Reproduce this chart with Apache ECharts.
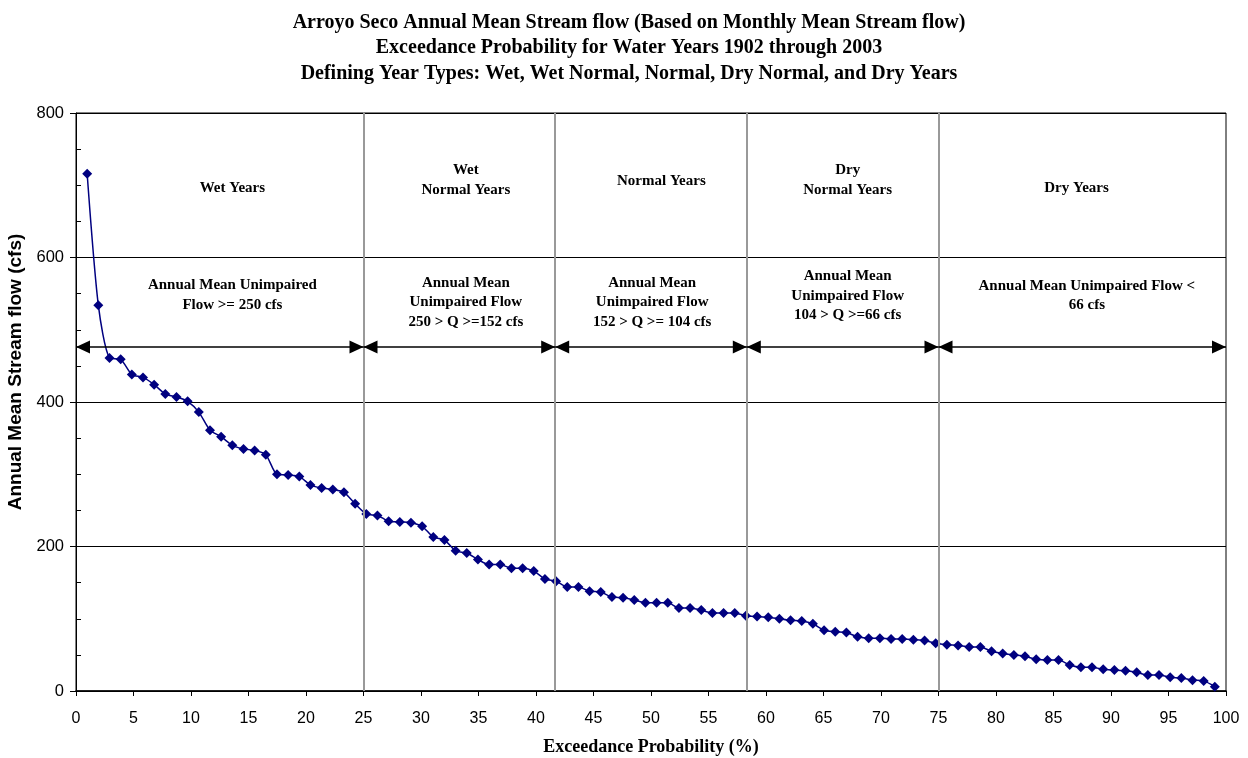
<!DOCTYPE html>
<html>
<head>
<meta charset="utf-8">
<script src="https://cdn.jsdelivr.net/npm/echarts@6/dist/echarts.min.js"></script>
<style>
  html, body { margin: 0; padding: 0; background: #fff; }
  #chart { width: 1248px; height: 758px; }
</style>
</head>
<body>
<div id="chart"></div>
<script>
// annual mean flow, ranked high to low (cfs), water years 1902-2003
var flows = [
  716, 534, 461, 459, 438, 434, 424, 411, 407, 401,
  386, 361, 352, 340, 335, 333, 327, 300, 299, 297,
  285, 281, 279, 275, 259, 245, 243, 235, 234, 233,
  228, 213, 209, 194, 191, 182, 175, 175, 170, 170,
  166, 155, 152, 144, 144, 138, 137, 130, 129, 126,
  122, 122, 122, 115, 115, 112, 108, 108, 108, 104,
  103, 102, 100, 98, 97, 93, 84, 82, 81, 75,
  73, 73, 72, 72, 71, 70, 66, 64, 63, 61,
  61, 55, 52, 50, 48, 44, 43, 43, 36, 33,
  33, 30, 29, 28, 26, 22, 22, 19, 18, 15,
  14, 6
]

// exceedance probability of each ranked year: rank / (n + 1)
var exceed = flows.map(function (v, i) { return (i + 1) / (flows.length + 1) * 100 })

// year type boundaries (% exceedance)
var bounds = [0, 25, 41.67, 58.33, 75, 100]
var arrowLevel = 476

var typeLabels = ['Wet Years', 'Wet\nNormal Years', 'Normal Years', 'Dry\nNormal Years', 'Dry Years']
var flowLabels = [
  'Annual Mean Unimpaired\nFlow >= 250 cfs',
  'Annual Mean\nUnimpaired Flow\n250 > Q >=152 cfs',
  'Annual Mean\nUnimpaired Flow\n152 > Q >= 104 cfs',
  'Annual Mean\nUnimpaired Flow\n104 > Q >=66 cfs',
  'Annual Mean Unimpaired Flow <\n66 cfs'
]
// where the text boxes sit (x %, y cfs)
var typePos = [[13.6, 696], [33.9, 707], [50.9, 706], [67.1, 707], [87, 696]]
var flowPos = [[13.6, 548], [33.9, 538], [50.1, 538], [67.1, 547], [87.9, 547]]

var serif = 'Liberation Serif, Times New Roman, serif'
var sans = 'Liberation Sans, Arial, sans-serif'

var chart = echarts.init(document.getElementById('chart'))

var textPoints = []
typeLabels.forEach(function (t, i) {
  textPoints.push({ coord: typePos[i], value: t })
})
flowLabels.forEach(function (t, i) {
  textPoints.push({ coord: flowPos[i], value: t })
})

var arrowSegs = []
for (var i = 0; i < bounds.length - 1; i++) {
  arrowSegs.push([{ coord: [bounds[i], arrowLevel] }, { coord: [bounds[i + 1], arrowLevel] }])
}

chart.setOption({
  animation: false,
  title: {
    text: 'Arroyo Seco Annual Mean Stream flow (Based on Monthly Mean Stream flow)\nExceedance Probability for Water Years 1902 through 2003\nDefining Year Types: Wet, Wet Normal, Normal, Dry Normal, and Dry Years',
    left: 624,
    top: 5,
    textAlign: 'center',
    textStyle: {
      fontFamily: serif,
      fontWeight: 'bold',
      fontSize: 20,
      lineHeight: 25.5,
      color: '#000'
    }
  },
  grid: {
    left: 76,
    right: 22,
    top: 113,
    bottom: 67,
    outerBoundsMode: 'none',
    containLabel: false,
    show: true,
    borderColor: '#000',
    borderWidth: 1
  },
  xAxis: {
    type: 'value',
    min: 0,
    max: 100,
    interval: 5,
    name: 'Exceedance Probability (%)',
    nameLocation: 'middle',
    nameGap: 47,
    nameTextStyle: { fontFamily: serif, fontWeight: 'bold', fontSize: 18, color: '#000' },
    axisLine: { lineStyle: { color: '#000', width: 1.5 } },
    axisTick: { length: 5, lineStyle: { color: '#000' } },
    axisLabel: { fontFamily: sans, fontSize: 16, color: '#000', margin: 20 },
    splitLine: { show: false }
  },
  yAxis: [
    {
      type: 'value',
      min: 0,
      max: 800,
      interval: 200,
      name: 'Annual Mean Stream flow (cfs)',
      nameLocation: 'middle',
      nameGap: 50,
      nameTextStyle: { fontFamily: sans, fontWeight: 'bold', fontSize: 19, color: '#000', padding: [0, 0, 0, 60] },
      axisLine: { show: true, lineStyle: { color: '#000' } },
      axisTick: { show: true, length: 6, lineStyle: { color: '#000' } },
      axisLabel: { fontFamily: sans, fontSize: 16.5, color: '#000', margin: 12 },
      splitLine: { show: true, lineStyle: { color: '#000', width: 1 } }
    },
    {
      // inside minor ticks every 50
      type: 'value',
      position: 'left',
      min: 0,
      max: 800,
      interval: 50,
      axisLine: { show: false },
      axisTick: { show: true, inside: true, length: 5, lineStyle: { color: '#000' } },
      axisLabel: { show: false },
      splitLine: { show: false }
    }
  ],
  series: [
    {
      // year type separators
      type: 'line',
      data: [],
      silent: true,
      markLine: {
        silent: true,
        symbol: 'none',
        label: { show: false },
        lineStyle: { color: '#999', width: 2, type: 'solid' },
        data: bounds.slice(1, -1).map(function (b) { return { xAxis: b } })
      }
    },
    {
      // range arrows
      type: 'line',
      data: [],
      silent: true,
      markLine: {
        silent: true,
        symbol: ['triangle', 'triangle'],
        symbolSize: [13, 14],
        symbolOffset: [[0, 7], [0, 7]],
        label: { show: false },
        lineStyle: { color: '#000', width: 1.5, type: 'solid' },
        itemStyle: { color: '#000' },
        data: arrowSegs
      }
    },
    {
      name: 'Annual Mean Stream flow',
      type: 'line',
      data: flows.map(function (v, i) { return [exceed[i], v] }),
      smooth: 0.25,
      symbol: 'diamond',
      symbolSize: 10,
      lineStyle: { color: '#000080', width: 1.5 },
      itemStyle: { color: '#000080' },
      markPoint: {
        silent: true,
        symbol: 'rect',
        symbolSize: 1,
        itemStyle: { color: 'rgba(0,0,0,0)' },
        label: {
          show: true,
          position: 'inside',
          formatter: function (p) { return p.value },
          fontFamily: serif,
          fontWeight: 'bold',
          fontSize: 15,
          lineHeight: 19.5,
          color: '#000',
          align: 'center'
        },
        data: textPoints
      }
    }
  ]
})
</script>
</body>
</html>
